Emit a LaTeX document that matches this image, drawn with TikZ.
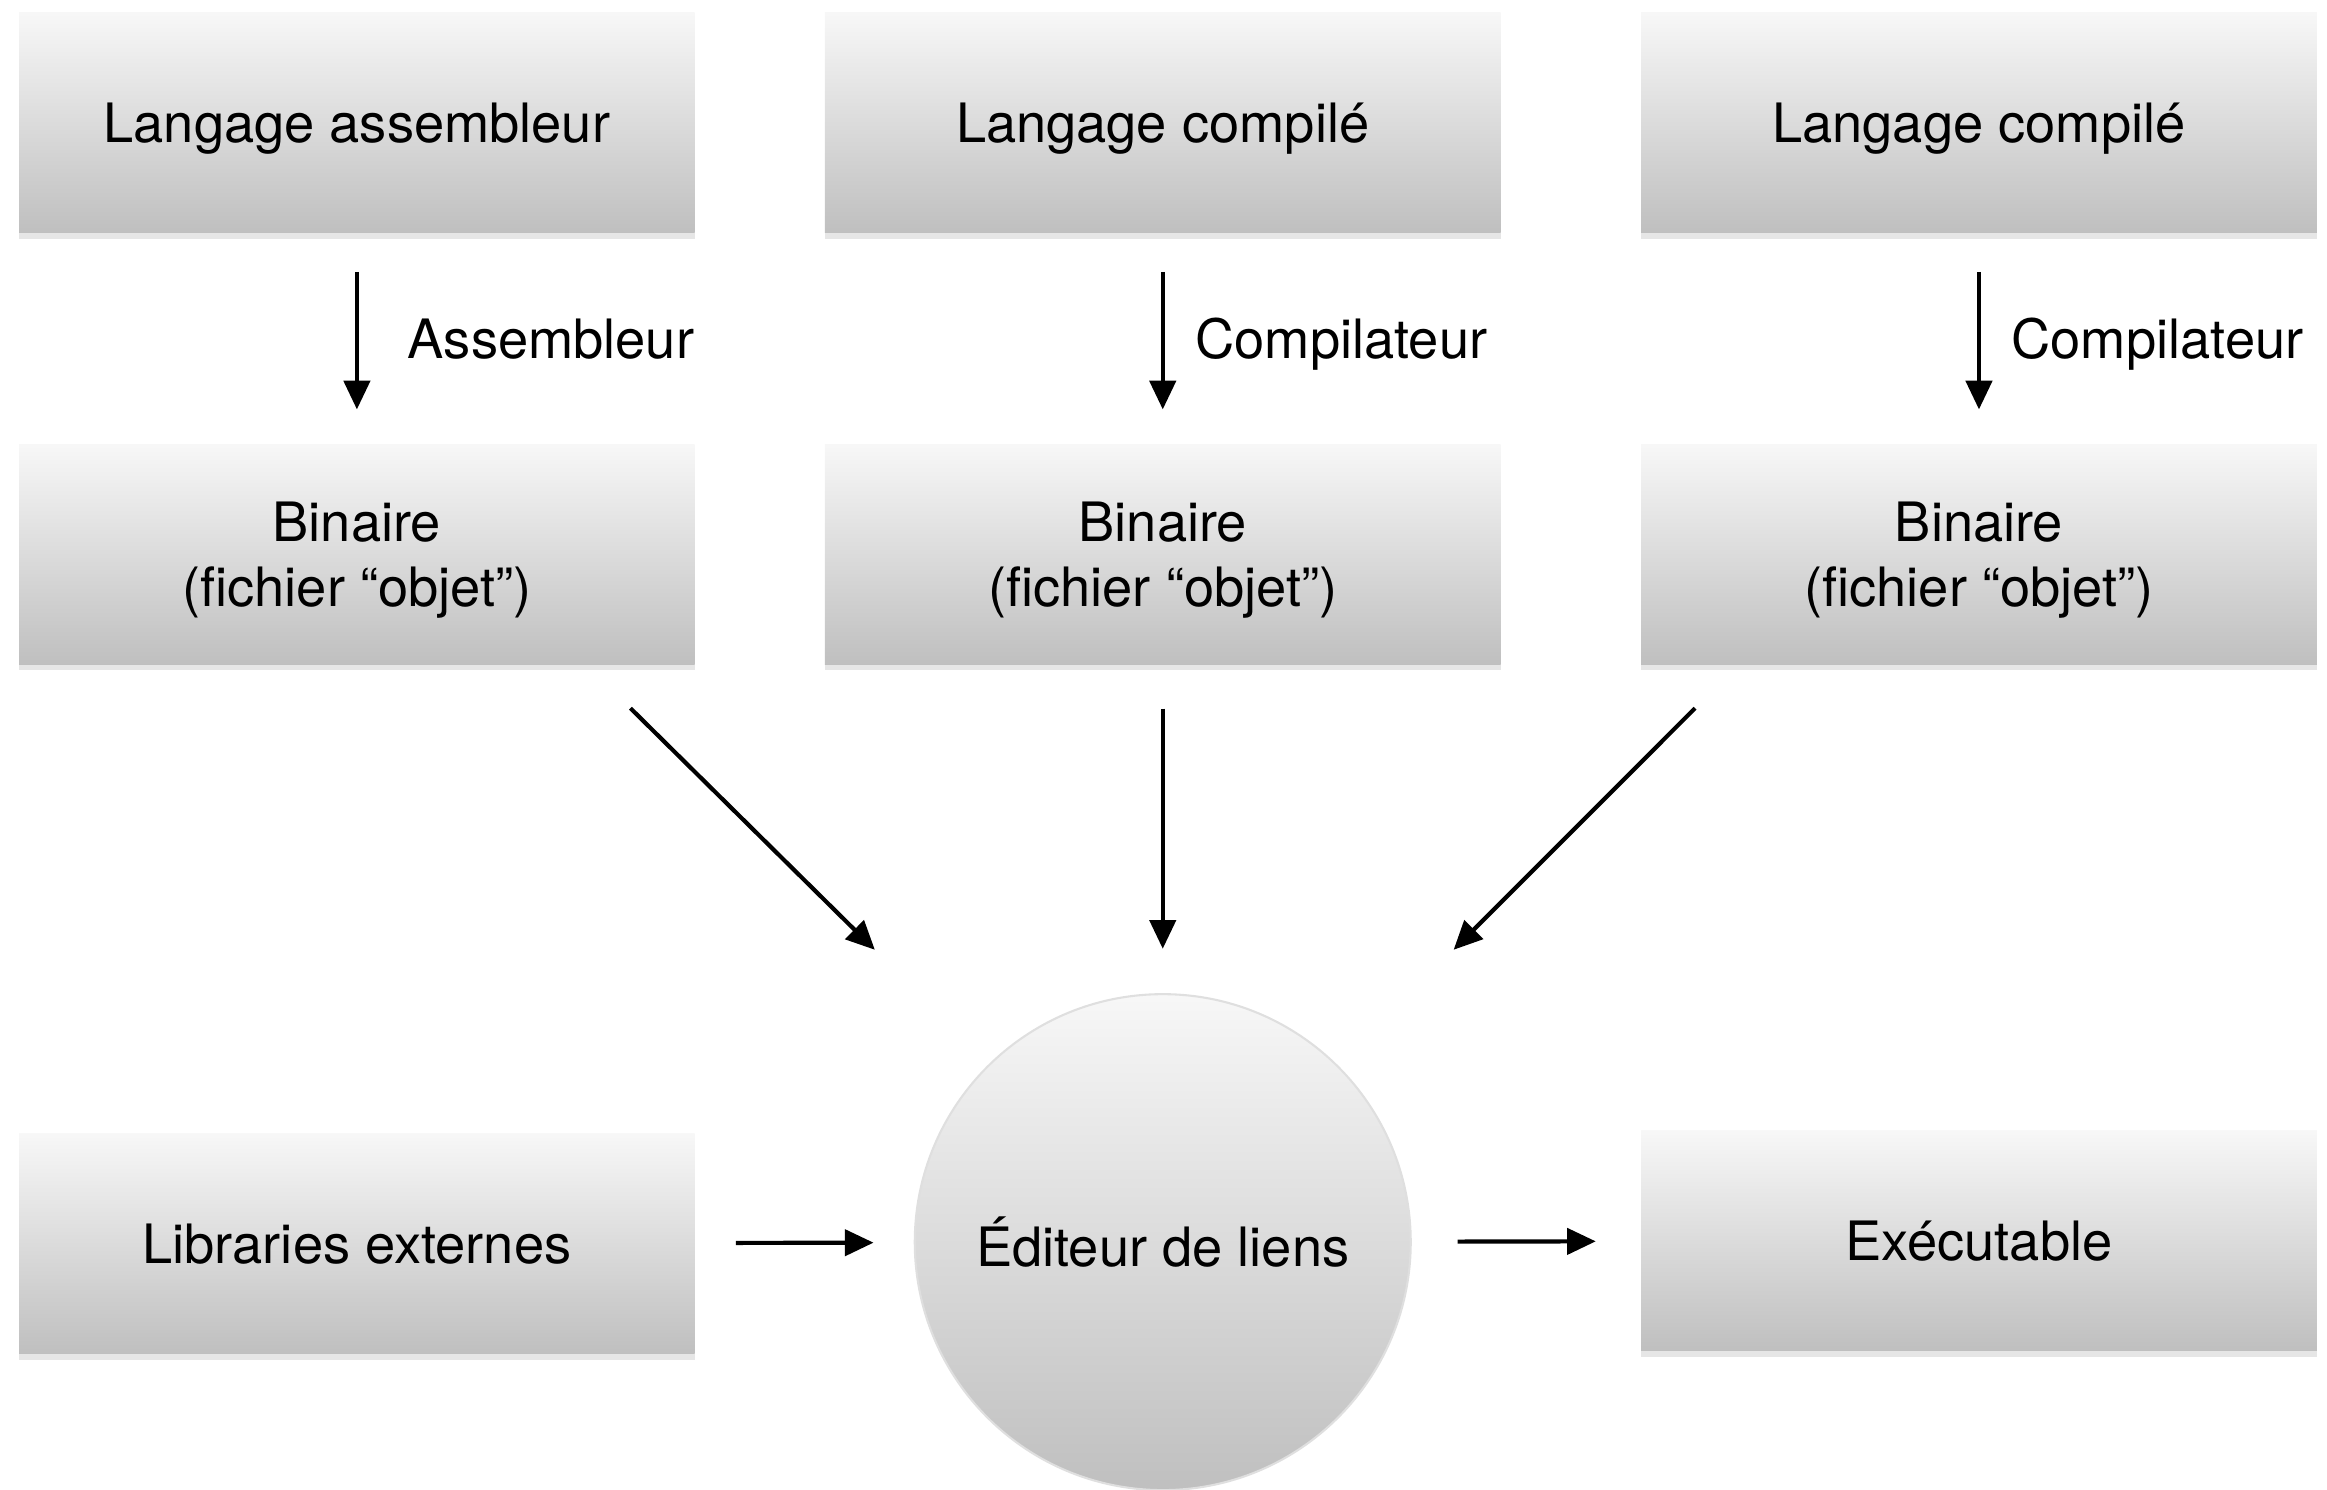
\documentclass[tikz,border=0pt]{standalone}
\usepackage{fontspec}
\setmainfont{TeX Gyre Heros}
\usetikzlibrary{arrows.meta,shadows}

\tikzset{
  boite/.style={rectangle, minimum width=4.55cm, minimum height=1.48cm, align=center,
    text depth=0pt, top color=gray!6, bottom color=gray!50,
    drop shadow={opacity=.2, shadow xshift=0pt, shadow yshift=-1.2pt}},
  rond/.style={circle, minimum size=3.34cm, top color=gray!6, bottom color=gray!50, draw=gray!25},
  fleche/.style={-{Triangle[length=5.5pt,width=5pt]}, line width=.8pt},
  etiq/.style={right=#1, text depth=0pt},
}

\begin{document}
\begin{tikzpicture}[x=0.01cm, y=-0.01cm, font=\fontsize{10.4}{12.3}\selectfont]
\useasboundingbox (0, 0) rectangle (1568, 1004);
% sources
\node [boite] (la) at (240.5, 82.5) {Langage assembleur};
\node [boite] (lb) at (783.5, 82.5) {Langage compilé};
\node [boite] (lc) at (1333.5, 82.5) {Langage compilé};
% fichiers objet
\node [boite] (ba) at (240.5, 373.5) {Binaire\\(fichier “objet”)};
\node [boite] (bb) at (783.5, 373.5) {Binaire\\(fichier “objet”)};
\node [boite] (bc) at (1333.5, 373.5) {Binaire\\(fichier “objet”)};
% edition des liens
\node [boite] (lib) at (240.5, 838) {Libraries externes};
\node [rond] (edl) at (783.5, 837) {Éditeur de liens};
\node [boite] (exe) at (1333.5, 836) {Exécutable};

\draw [fleche, shorten <=7.4pt, shorten >=6.5pt] (la) -- node (ta) [etiq=6pt] {Assembleur} (ba);
\draw [fleche, shorten <=7.4pt, shorten >=6.5pt] (lb) -- node (tb) [etiq=2.5pt] {Compilateur} (bb);
\draw [fleche, shorten <=7.4pt, shorten >=6.5pt] (lc) -- node (tc) [etiq=2.5pt] {Compilateur} (bc);

\draw [fleche] ([shift={(-44, 29)}]ba.south east) -- ([shift={(-194, -197)}]edl.center);
\draw [fleche, shorten <=8.3pt, shorten >=8.5pt] (bb) -- (edl);
\draw [fleche] ([shift={(37, 29)}]bc.south west) -- ([shift={(196, -197)}]edl.center);

\draw [fleche, shorten <=7.7pt, shorten >=7.7pt] (lib) -- (edl);
\draw [fleche, shorten <=8.8pt, shorten >=8.5pt] (edl) -- (exe);
\end{tikzpicture}
\end{document}
